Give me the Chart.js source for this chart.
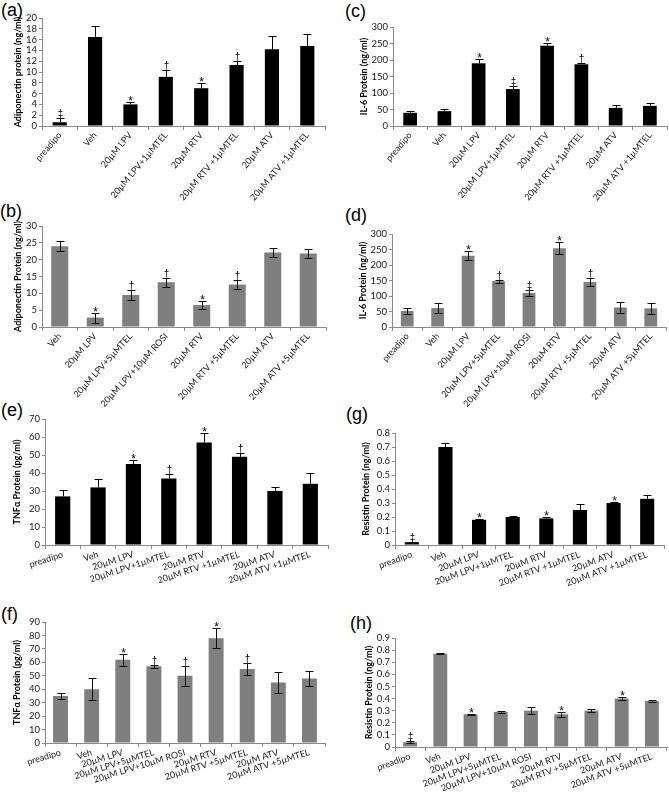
<!DOCTYPE html>
<html>
<head>
<meta charset="utf-8">
<script src="https://cdn.jsdelivr.net/npm/chart.js@4.4.1/dist/chart.umd.min.js"></script>
<style>
  body { margin: 0; background: #fff; width: 669px; height: 801px; position: relative; overflow: hidden; }
  canvas { position: absolute; }
  .tag { position: absolute; font: 18px "Liberation Sans", Arial, sans-serif; line-height: 1; color: #000; }
</style>
</head>
<body>
<div class="tag" style="left:1px;top:1px">(a)</div>
<div class="tag" style="left:345px;top:2px">(c)</div>
<div class="tag" style="left:0px;top:202px">(b)</div>
<div class="tag" style="left:345px;top:206px">(d)</div>
<div class="tag" style="left:1px;top:401px">(e)</div>
<div class="tag" style="left:346px;top:405px">(g)</div>
<div class="tag" style="left:1px;top:605px">(f)</div>
<div class="tag" style="left:350px;top:614px">(h)</div>
<script>
// category labels
const labels1 = ['preadipo', 'Veh', '20µM LPV', '20µM LPV+1µMTEL', '20µM RTV', '20µM RTV +1µMTEL', '20µM ATV', '20µM ATV +1µMTEL'];
const labels5 = ['Veh', '20µM LPV', '20µM LPV+5µMTEL', '20µM LPV+10µM ROSI', '20µM RTV', '20µM RTV +5µMTEL', '20µM ATV', '20µM ATV +5µMTEL'];
const labels5p = ['preadipo'].concat(labels5);

// (a) adiponectin, 1µM
const adipoA = [0.7, 16.5, 4.0, 9.1, 7.0, 11.3, 14.2, 14.8];
const adipoAErr = [0.8, 2.0, 0.4, 1.2, 1.0, 0.8, 2.4, 2.2];
const adipoASig = ['‡', '', '*', '†', '*', '†', '', ''];

// (b) adiponectin, 5µM
const adipoB = [24, 2.8, 9.5, 13.3, 6.5, 12.6, 22.1, 21.8];
const adipoBErr = [1.4, 1.5, 1.4, 1.3, 1.3, 1.4, 1.4, 1.4];
const adipoBSig = ['', '*', '†', '†', '*', '†', '', ''];

// (c) IL-6, 1µM
const il6C = [40, 45, 190, 112, 243, 187, 55, 61];
const il6CErr = [6, 6, 12, 10, 8, 4, 9, 9];
const il6CSig = ['', '', '*', '‡', '*', '†', '', ''];

// (d) IL-6, 5µM
const il6D = [52, 61, 230, 148, 110, 254, 145, 63, 60];
const il6DErr = [9, 15, 14, 5, 10, 20, 14, 19, 18];
const il6DSig = ['', '', '*', '†', '‡', '*', '†', '', ''];

// (e) TNFa, 1µM
const tnfE = [27, 32, 45, 37, 57, 49, 30, 34];
const tnfEErr = [3.3, 4.5, 2, 2.7, 5, 2, 2, 6];
const tnfESig = ['', '', '*', '†', '*', '†', '', ''];

// (f) TNFa, 5µM
const tnfF = [35, 40, 62, 57, 50, 78, 55, 45, 48];
const tnfFErr = [2, 8, 4.5, 1, 7.5, 7.5, 4.5, 8, 5.5];
const tnfFSig = ['', '', '*', '†', '†', '*', '†', '', ''];

// (g) resistin, 1µM
const resG = [0.02, 0.70, 0.18, 0.20, 0.19, 0.25, 0.30, 0.33];
const resGErr = [0.005, 0.03, 0.008, 0.005, 0.008, 0.045, 0.004, 0.03];
const resGSig = ['‡', '', '*', '', '*', '', '*', ''];

// (h) resistin, 5µM
const resH = [0.04, 0.77, 0.27, 0.29, 0.30, 0.27, 0.30, 0.40, 0.38];
const resHErr = [0.01, 0.003, 0.003, 0.01, 0.03, 0.02, 0.01, 0.012, 0.005];
const resHSig = ['‡', '', '*', '', '', '*', '', '*', ''];

const BLACK = '#000000';
const GREY = '#7f7f7f';
const AXIS = '#8a8a8a';
const TEXT = '#1a1a1a';

// error bars + significance marks, drawn from the scales
const errPlugin = {
    id: 'errbars',
    afterDatasetsDraw(chart, args, o) {
        const ctx = chart.ctx;
        const x = chart.scales.x, y = chart.scales.y;
        const vals = chart.data.datasets[0].data;
        ctx.save();
        ctx.strokeStyle = o.color;
        ctx.lineWidth = 1;
        vals.forEach((v, i) => {
            const px = Math.round(x.getPixelForValue(i)) + 0.5;
            const top = Math.round(y.getPixelForValue(v + o.err[i])) + 0.5;
            const bot = Math.round(y.getPixelForValue(Math.max(v - o.err[i], 0))) + 0.5;
            ctx.beginPath();
            ctx.moveTo(px, top);
            ctx.lineTo(px, o.upperOnly ? y.getPixelForValue(v) : bot);
            ctx.moveTo(px - o.cap, top);
            ctx.lineTo(px + o.cap, top);
            if (!o.upperOnly) {
                ctx.moveTo(px - o.cap, bot);
                ctx.lineTo(px + o.cap, bot);
            }
            ctx.stroke();
            const s = o.sig[i];
            if (s) {
                ctx.fillStyle = '#000';
                ctx.textAlign = 'center';
                ctx.textBaseline = 'alphabetic';
                if (s === '*') {
                    ctx.font = '12px "Liberation Sans", Arial';
                    ctx.fillText(s, px, top + 2);
                } else {
                    ctx.font = '10px "Liberation Sans", Arial';
                    ctx.fillText(s, px, top - 2);
                }
            }
        });
        ctx.restore();
    }
};

function panel(p) {
    const c = document.createElement('canvas');
    c.width = p.box[2];
    c.height = p.box[3];
    c.style.left = p.box[0] + 'px';
    c.style.top = p.box[1] + 'px';
    document.body.appendChild(c);
    const L = p.area[0], T = p.area[1], R = p.area[2], B = p.area[3];
    return new Chart(c.getContext('2d'), {
        type: 'bar',
        data: {
            labels: p.labels,
            datasets: [{
                data: p.values,
                backgroundColor: p.color,
                barPercentage: p.bar,
                categoryPercentage: 1
            }]
        },
        options: {
            responsive: false,
            animation: false,
            layout: { padding: { left: 0, top: T, right: p.box[2] - R, bottom: 0 } },
            plugins: {
                legend: { display: false },
                tooltip: { enabled: false },
                errbars: { err: p.err, sig: p.sig, color: p.color === BLACK ? '#000' : '#111', upperOnly: p.color === BLACK, cap: 4 }
            },
            scales: {
                x: {
                    afterFit: (s) => { s.height = p.box[3] - B; },
                    grid: { drawOnChartArea: false, drawTicks: true, tickLength: 4, color: AXIS, offset: true },
                    border: { color: AXIS },
                    ticks: {
                        autoSkip: false, minRotation: p.rot, maxRotation: p.rot, padding: 0,
                        color: TEXT, font: { family: 'Lato', size: 9 }
                    }
                },
                y: {
                    min: 0, max: p.max,
                    afterFit: (s) => { s.width = L; },
                    grid: { drawOnChartArea: false, drawTicks: true, tickLength: 3, color: AXIS },
                    border: { color: AXIS },
                    ticks: { stepSize: p.step, autoSkip: false, padding: 2, color: TEXT, font: { family: 'Lato', size: 9.5 } },
                    title: {
                        display: true, text: p.title, color: '#000',
                        font: { family: 'Lato', size: 9, weight: 'bold' },
                        padding: { top: p.tpad, bottom: 0 }
                    }
                }
            }
        },
        plugins: [errPlugin]
    });
}

panel({ box: [0, 0, 334, 215], area: [42, 18, 325, 126], labels: labels1, values: adipoA, err: adipoAErr, sig: adipoASig,
    color: BLACK, bar: 0.4, rot: 50, max: 20, step: 2, title: 'Adiponectin protein (ng/ml)', tpad: 13 });
panel({ box: [334, 0, 335, 215], area: [59, 27, 333, 126], labels: labels1, values: il6C, err: il6CErr, sig: il6CSig,
    color: BLACK, bar: 0.4, rot: 50, max: 300, step: 50, title: 'IL-6 Protein (ng/ml)', tpad: 25 });
panel({ box: [0, 200, 334, 220], area: [42, 26, 326, 127], labels: labels5, values: adipoB, err: adipoBErr, sig: adipoBSig,
    color: GREY, bar: 0.48, rot: 48, max: 30, step: 5, title: 'Adiponectin Protein (ng/ml)', tpad: 13 });
panel({ box: [334, 200, 335, 220], area: [58, 34, 332, 127], labels: labels5p, values: il6D, err: il6DErr, sig: il6DSig,
    color: GREY, bar: 0.42, rot: 48, max: 300, step: 50, title: 'IL-6 Protein (ng/ml)', tpad: 24 });
panel({ box: [0, 405, 334, 200], area: [45, 14, 328, 140], labels: labels1, values: tnfE, err: tnfEErr, sig: tnfESig,
    color: BLACK, bar: 0.43, rot: 18, max: 70, step: 10, title: 'TNFα Protein (pg/ml)', tpad: 12 });
panel({ box: [334, 405, 335, 200], area: [61, 28, 330, 140], labels: labels1, values: resG, err: resGErr, sig: resGSig,
    color: BLACK, bar: 0.42, rot: 20, max: 0.8, step: 0.1, title: 'Resistin Protein (ng/ml)', tpad: 27 });
panel({ box: [0, 605, 334, 196], area: [45, 17, 325, 138], labels: labels5p, values: tnfF, err: tnfFErr, sig: tnfFSig,
    color: GREY, bar: 0.48, rot: 17, max: 90, step: 10, title: 'TNFα Protein (pg/ml)', tpad: 12 });
panel({ box: [334, 605, 335, 196], area: [61, 33, 333, 142], labels: labels5p, values: resH, err: resHErr, sig: resHSig,
    color: GREY, bar: 0.46, rot: 20, max: 0.9, step: 0.1, title: 'Resistin Protein (ng/ml)', tpad: 30 });
</script>
</body>
</html>
